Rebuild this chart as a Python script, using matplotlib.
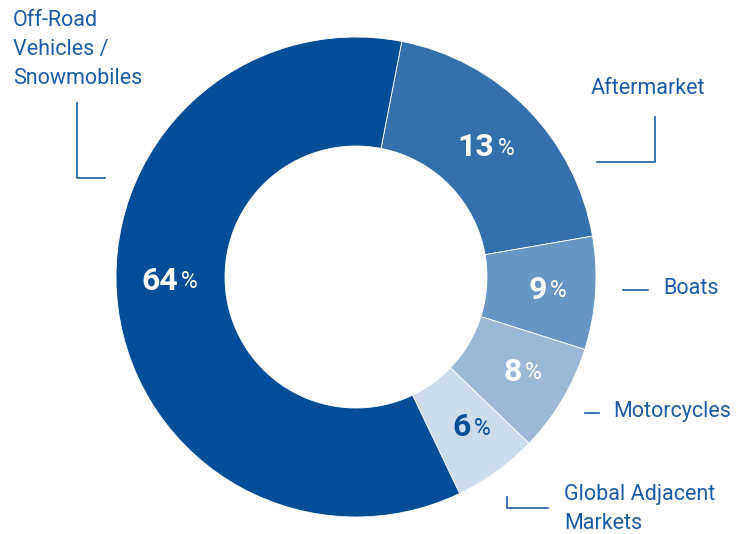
import numpy as np
import matplotlib
matplotlib.use("Agg")
import matplotlib.pyplot as plt

# ---- data ----
categories = ["Off-Road\nVehicles /\nSnowmobiles", "Aftermarket", "Boats",
              "Motorcycles", "Global Adjacent\nMarkets"]
label_pct = [64, 13, 9, 8, 6]                 # printed labels
wedge_share = [60.1, 19.2, 7.6, 7.3, 5.7]      # arc sizes as drawn in the picture
colors = ["#034E96", "#3370AC", "#6896C3", "#9BB8D6", "#CCDCEB"]
pct_colors = ["white", "white", "white", "white", "#034E96"]

W, H = 747, 534
TXT = "#1B5CA6"
plt.rcParams['font.family'] = ['Roboto', 'DejaVu Sans']

fig = plt.figure(figsize=(W / 100, H / 100), dpi=100)
ax = fig.add_axes([0, 0, 1, 1])
ax.set_xlim(0, W)
ax.set_ylim(0, H)
ax.set_aspect('equal')
ax.axis('off')

def py(y):  # pixel-from-top -> data y
    return H - y

cx, cy, R, r = 356, py(277), 240, 131
# order drawn clockwise from the Aftermarket boundary
order = [1, 2, 3, 4, 0]
vals = [wedge_share[i] for i in order]
cols = [colors[i] for i in order]
wedges, _ = ax.pie(vals, colors=cols, startangle=79, counterclock=False,
                   center=(cx, cy), radius=R,
                   wedgeprops=dict(width=R - r, linewidth=0.6, edgecolor='white'))
ax.set_xlim(0, W)
ax.set_ylim(0, H)

rm = (R + r) / 2
for w, i in zip(wedges, order):
    th = np.deg2rad((w.theta1 + w.theta2) / 2)
    x = cx + rm * np.cos(th)
    y = cy + rm * np.sin(th)
    if i == 0:
        y = cy - 4
    ax.text(x + 6, y, str(label_pct[i]), ha='right', va='center', fontsize=23,
            fontweight='bold', color=pct_colors[i])
    ax.text(x + 9, y - 1, "%", ha='left', va='center', fontsize=16.5,
            fontweight='normal', color=pct_colors[i])

# category labels
fs = 15.5
ax.text(13, py(10), categories[0], ha='left', va='top', fontsize=fs, color=TXT,
        linespacing=1.5)
ax.text(591, py(88), categories[1], ha='left', va='center', fontsize=fs, color=TXT)
ax.text(663, py(289), categories[2], ha='left', va='center', fontsize=fs, color=TXT)
ax.text(613, py(412), categories[3], ha='left', va='center', fontsize=fs, color=TXT)
ax.text(564, py(484), categories[4], ha='left', va='top', fontsize=fs, color=TXT,
        linespacing=1.5)

lw = 1.2
ax.plot([77, 77, 105], [py(103), py(178), py(178)], color=TXT, lw=lw)
ax.plot([655, 655, 597], [py(117), py(162), py(162)], color=TXT, lw=lw)
ax.plot([623, 648], [py(290), py(290)], color=TXT, lw=lw)
ax.plot([585, 599], [py(413), py(413)], color=TXT, lw=lw)
ax.plot([507, 507, 548], [py(497), py(508), py(508)], color=TXT, lw=lw)

fig.savefig("out.png", dpi=100)
